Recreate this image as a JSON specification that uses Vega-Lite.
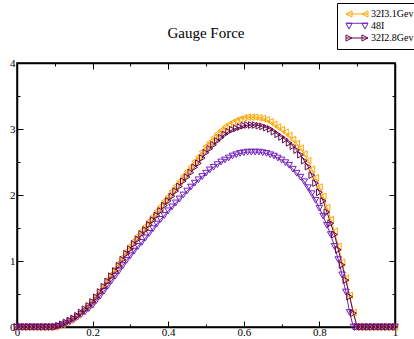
{
"$schema":"https://vega.github.io/schema/vega-lite/v6.json",
"width":378,"height":264,
"autosize":{"type":"none"},
"padding":{"left":17,"top":63,"right":19,"bottom":12},
"background":"white",
"title":{"text":"Gauge Force","font":"Liberation Serif","fontSize":15,"fontWeight":"normal","color":"black","anchor":"middle","frame":"group","offset":-38},
"config":{
 "view":{"stroke":"black","strokeWidth":1.5},
 "axis":{"domainColor":"black","domainWidth":1.5,"tickColor":"black","tickWidth":1,"labelFont":"Liberation Serif","labelFontSize":11,"labelColor":"black","grid":false,"title":null,"format":"~g"},
 "legend":{"orient":"none","legendX":320,"legendY":-60,"strokeColor":"black","strokeWidth":1,"padding":5,"fillColor":"white","labelFont":"Liberation Serif","labelFontSize":10,"labelColor":"black","symbolSize":121,"symbolStrokeWidth":1,"rowPadding":0,"symbolOffset":9,"labelOffset":8,"title":null}
},
"data":{"values":[
{"s":"32I3.1Gev","x":0,"y":0},{"s":"32I3.1Gev","x":0.01,"y":0},{"s":"32I3.1Gev","x":0.02,"y":0},{"s":"32I3.1Gev","x":0.03,"y":0},{"s":"32I3.1Gev","x":0.04,"y":0},{"s":"32I3.1Gev","x":0.05,"y":0},{"s":"32I3.1Gev","x":0.06,"y":0},{"s":"32I3.1Gev","x":0.07,"y":0},{"s":"32I3.1Gev","x":0.08,"y":0},{"s":"32I3.1Gev","x":0.09,"y":0},{"s":"32I3.1Gev","x":0.1,"y":0},
{"s":"32I3.1Gev","x":0.11,"y":0.02},{"s":"32I3.1Gev","x":0.12,"y":0.04},{"s":"32I3.1Gev","x":0.13,"y":0.07},{"s":"32I3.1Gev","x":0.14,"y":0.1},{"s":"32I3.1Gev","x":0.15,"y":0.14},{"s":"32I3.1Gev","x":0.16,"y":0.18},{"s":"32I3.1Gev","x":0.17,"y":0.23},{"s":"32I3.1Gev","x":0.18,"y":0.28},{"s":"32I3.1Gev","x":0.19,"y":0.33},{"s":"32I3.1Gev","x":0.2,"y":0.39},
{"s":"32I3.1Gev","x":0.21,"y":0.47},{"s":"32I3.1Gev","x":0.22,"y":0.55},{"s":"32I3.1Gev","x":0.23,"y":0.63},{"s":"32I3.1Gev","x":0.24,"y":0.72},{"s":"32I3.1Gev","x":0.25,"y":0.8},{"s":"32I3.1Gev","x":0.26,"y":0.88},{"s":"32I3.1Gev","x":0.27,"y":0.97},{"s":"32I3.1Gev","x":0.28,"y":1.06},{"s":"32I3.1Gev","x":0.29,"y":1.15},{"s":"32I3.1Gev","x":0.3,"y":1.23},
{"s":"32I3.1Gev","x":0.31,"y":1.31},{"s":"32I3.1Gev","x":0.32,"y":1.38},{"s":"32I3.1Gev","x":0.33,"y":1.46},{"s":"32I3.1Gev","x":0.34,"y":1.53},{"s":"32I3.1Gev","x":0.35,"y":1.61},{"s":"32I3.1Gev","x":0.36,"y":1.68},{"s":"32I3.1Gev","x":0.37,"y":1.76},{"s":"32I3.1Gev","x":0.38,"y":1.83},{"s":"32I3.1Gev","x":0.39,"y":1.91},{"s":"32I3.1Gev","x":0.4,"y":1.98},
{"s":"32I3.1Gev","x":0.41,"y":2.06},{"s":"32I3.1Gev","x":0.42,"y":2.14},{"s":"32I3.1Gev","x":0.43,"y":2.21},{"s":"32I3.1Gev","x":0.44,"y":2.29},{"s":"32I3.1Gev","x":0.45,"y":2.36},{"s":"32I3.1Gev","x":0.46,"y":2.43},{"s":"32I3.1Gev","x":0.47,"y":2.51},{"s":"32I3.1Gev","x":0.48,"y":2.58},{"s":"32I3.1Gev","x":0.49,"y":2.66},{"s":"32I3.1Gev","x":0.5,"y":2.74},
{"s":"32I3.1Gev","x":0.51,"y":2.8},{"s":"32I3.1Gev","x":0.52,"y":2.87},{"s":"32I3.1Gev","x":0.53,"y":2.93},{"s":"32I3.1Gev","x":0.54,"y":2.98},{"s":"32I3.1Gev","x":0.55,"y":3.03},{"s":"32I3.1Gev","x":0.56,"y":3.07},{"s":"32I3.1Gev","x":0.57,"y":3.1},{"s":"32I3.1Gev","x":0.58,"y":3.13},{"s":"32I3.1Gev","x":0.59,"y":3.15},{"s":"32I3.1Gev","x":0.6,"y":3.17},
{"s":"32I3.1Gev","x":0.61,"y":3.18},{"s":"32I3.1Gev","x":0.62,"y":3.18},{"s":"32I3.1Gev","x":0.63,"y":3.18},{"s":"32I3.1Gev","x":0.64,"y":3.17},{"s":"32I3.1Gev","x":0.65,"y":3.16},{"s":"32I3.1Gev","x":0.66,"y":3.14},{"s":"32I3.1Gev","x":0.67,"y":3.11},{"s":"32I3.1Gev","x":0.68,"y":3.07},{"s":"32I3.1Gev","x":0.69,"y":3.03},{"s":"32I3.1Gev","x":0.7,"y":2.99},
{"s":"32I3.1Gev","x":0.71,"y":2.95},{"s":"32I3.1Gev","x":0.72,"y":2.9},{"s":"32I3.1Gev","x":0.73,"y":2.84},{"s":"32I3.1Gev","x":0.74,"y":2.78},{"s":"32I3.1Gev","x":0.75,"y":2.71},{"s":"32I3.1Gev","x":0.76,"y":2.62},{"s":"32I3.1Gev","x":0.77,"y":2.52},{"s":"32I3.1Gev","x":0.78,"y":2.39},{"s":"32I3.1Gev","x":0.79,"y":2.26},{"s":"32I3.1Gev","x":0.8,"y":2.12},
{"s":"32I3.1Gev","x":0.81,"y":1.98},{"s":"32I3.1Gev","x":0.82,"y":1.81},{"s":"32I3.1Gev","x":0.83,"y":1.63},{"s":"32I3.1Gev","x":0.84,"y":1.45},{"s":"32I3.1Gev","x":0.85,"y":1.22},{"s":"32I3.1Gev","x":0.86,"y":0.98},{"s":"32I3.1Gev","x":0.87,"y":0.74},{"s":"32I3.1Gev","x":0.88,"y":0.48},{"s":"32I3.1Gev","x":0.89,"y":0.22},{"s":"32I3.1Gev","x":0.9,"y":0},
{"s":"32I3.1Gev","x":0.91,"y":0},{"s":"32I3.1Gev","x":0.92,"y":0},{"s":"32I3.1Gev","x":0.93,"y":0},{"s":"32I3.1Gev","x":0.94,"y":0},{"s":"32I3.1Gev","x":0.95,"y":0},{"s":"32I3.1Gev","x":0.96,"y":0},{"s":"32I3.1Gev","x":0.97,"y":0},{"s":"32I3.1Gev","x":0.98,"y":0},{"s":"32I3.1Gev","x":0.99,"y":0},{"s":"32I3.1Gev","x":1,"y":0},
{"s":"48I","x":0,"y":0},{"s":"48I","x":0.01,"y":0},{"s":"48I","x":0.02,"y":0},{"s":"48I","x":0.03,"y":0},{"s":"48I","x":0.04,"y":0},{"s":"48I","x":0.05,"y":0},{"s":"48I","x":0.06,"y":0},{"s":"48I","x":0.07,"y":0},{"s":"48I","x":0.08,"y":0},{"s":"48I","x":0.09,"y":0},{"s":"48I","x":0.1,"y":0},
{"s":"48I","x":0.11,"y":0.01},{"s":"48I","x":0.12,"y":0.03},{"s":"48I","x":0.13,"y":0.05},{"s":"48I","x":0.14,"y":0.08},{"s":"48I","x":0.15,"y":0.11},{"s":"48I","x":0.16,"y":0.15},{"s":"48I","x":0.17,"y":0.19},{"s":"48I","x":0.18,"y":0.23},{"s":"48I","x":0.19,"y":0.28},{"s":"48I","x":0.2,"y":0.33},
{"s":"48I","x":0.21,"y":0.4},{"s":"48I","x":0.22,"y":0.47},{"s":"48I","x":0.23,"y":0.54},{"s":"48I","x":0.24,"y":0.62},{"s":"48I","x":0.25,"y":0.7},{"s":"48I","x":0.26,"y":0.77},{"s":"48I","x":0.27,"y":0.85},{"s":"48I","x":0.28,"y":0.93},{"s":"48I","x":0.29,"y":1.01},{"s":"48I","x":0.3,"y":1.08},
{"s":"48I","x":0.31,"y":1.15},{"s":"48I","x":0.32,"y":1.22},{"s":"48I","x":0.33,"y":1.28},{"s":"48I","x":0.34,"y":1.35},{"s":"48I","x":0.35,"y":1.42},{"s":"48I","x":0.36,"y":1.49},{"s":"48I","x":0.37,"y":1.56},{"s":"48I","x":0.38,"y":1.63},{"s":"48I","x":0.39,"y":1.69},{"s":"48I","x":0.4,"y":1.76},
{"s":"48I","x":0.41,"y":1.82},{"s":"48I","x":0.42,"y":1.88},{"s":"48I","x":0.43,"y":1.94},{"s":"48I","x":0.44,"y":2.0},{"s":"48I","x":0.45,"y":2.06},{"s":"48I","x":0.46,"y":2.12},{"s":"48I","x":0.47,"y":2.18},{"s":"48I","x":0.48,"y":2.23},{"s":"48I","x":0.49,"y":2.28},{"s":"48I","x":0.5,"y":2.33},
{"s":"48I","x":0.51,"y":2.38},{"s":"48I","x":0.52,"y":2.42},{"s":"48I","x":0.53,"y":2.46},{"s":"48I","x":0.54,"y":2.5},{"s":"48I","x":0.55,"y":2.53},{"s":"48I","x":0.56,"y":2.56},{"s":"48I","x":0.57,"y":2.59},{"s":"48I","x":0.58,"y":2.61},{"s":"48I","x":0.59,"y":2.63},{"s":"48I","x":0.6,"y":2.64},
{"s":"48I","x":0.61,"y":2.65},{"s":"48I","x":0.62,"y":2.65},{"s":"48I","x":0.63,"y":2.65},{"s":"48I","x":0.64,"y":2.65},{"s":"48I","x":0.65,"y":2.64},{"s":"48I","x":0.66,"y":2.63},{"s":"48I","x":0.67,"y":2.61},{"s":"48I","x":0.68,"y":2.59},{"s":"48I","x":0.69,"y":2.56},{"s":"48I","x":0.7,"y":2.53},
{"s":"48I","x":0.71,"y":2.49},{"s":"48I","x":0.72,"y":2.45},{"s":"48I","x":0.73,"y":2.39},{"s":"48I","x":0.74,"y":2.33},{"s":"48I","x":0.75,"y":2.27},{"s":"48I","x":0.76,"y":2.2},{"s":"48I","x":0.77,"y":2.11},{"s":"48I","x":0.78,"y":2.02},{"s":"48I","x":0.79,"y":1.92},{"s":"48I","x":0.8,"y":1.8},
{"s":"48I","x":0.81,"y":1.68},{"s":"48I","x":0.82,"y":1.54},{"s":"48I","x":0.83,"y":1.4},{"s":"48I","x":0.84,"y":1.22},{"s":"48I","x":0.85,"y":1.02},{"s":"48I","x":0.86,"y":0.79},{"s":"48I","x":0.87,"y":0.53},{"s":"48I","x":0.88,"y":0.22},{"s":"48I","x":0.89,"y":0},{"s":"48I","x":0.9,"y":0},
{"s":"48I","x":0.91,"y":0},{"s":"48I","x":0.92,"y":0},{"s":"48I","x":0.93,"y":0},{"s":"48I","x":0.94,"y":0},{"s":"48I","x":0.95,"y":0},{"s":"48I","x":0.96,"y":0},{"s":"48I","x":0.97,"y":0},{"s":"48I","x":0.98,"y":0},{"s":"48I","x":0.99,"y":0},{"s":"48I","x":1,"y":0},
{"s":"32I2.8Gev","x":0,"y":0},{"s":"32I2.8Gev","x":0.01,"y":0},{"s":"32I2.8Gev","x":0.02,"y":0},{"s":"32I2.8Gev","x":0.03,"y":0},{"s":"32I2.8Gev","x":0.04,"y":0},{"s":"32I2.8Gev","x":0.05,"y":0},{"s":"32I2.8Gev","x":0.06,"y":0},{"s":"32I2.8Gev","x":0.07,"y":0},{"s":"32I2.8Gev","x":0.08,"y":0},{"s":"32I2.8Gev","x":0.09,"y":0},{"s":"32I2.8Gev","x":0.1,"y":0},
{"s":"32I2.8Gev","x":0.11,"y":0.02},{"s":"32I2.8Gev","x":0.12,"y":0.04},{"s":"32I2.8Gev","x":0.13,"y":0.07},{"s":"32I2.8Gev","x":0.14,"y":0.1},{"s":"32I2.8Gev","x":0.15,"y":0.13},{"s":"32I2.8Gev","x":0.16,"y":0.17},{"s":"32I2.8Gev","x":0.17,"y":0.22},{"s":"32I2.8Gev","x":0.18,"y":0.27},{"s":"32I2.8Gev","x":0.19,"y":0.32},{"s":"32I2.8Gev","x":0.2,"y":0.38},
{"s":"32I2.8Gev","x":0.21,"y":0.45},{"s":"32I2.8Gev","x":0.22,"y":0.53},{"s":"32I2.8Gev","x":0.23,"y":0.61},{"s":"32I2.8Gev","x":0.24,"y":0.69},{"s":"32I2.8Gev","x":0.25,"y":0.77},{"s":"32I2.8Gev","x":0.26,"y":0.85},{"s":"32I2.8Gev","x":0.27,"y":0.93},{"s":"32I2.8Gev","x":0.28,"y":1.02},{"s":"32I2.8Gev","x":0.29,"y":1.11},{"s":"32I2.8Gev","x":0.3,"y":1.18},
{"s":"32I2.8Gev","x":0.31,"y":1.26},{"s":"32I2.8Gev","x":0.32,"y":1.33},{"s":"32I2.8Gev","x":0.33,"y":1.41},{"s":"32I2.8Gev","x":0.34,"y":1.47},{"s":"32I2.8Gev","x":0.35,"y":1.55},{"s":"32I2.8Gev","x":0.36,"y":1.62},{"s":"32I2.8Gev","x":0.37,"y":1.69},{"s":"32I2.8Gev","x":0.38,"y":1.76},{"s":"32I2.8Gev","x":0.39,"y":1.84},{"s":"32I2.8Gev","x":0.4,"y":1.91},
{"s":"32I2.8Gev","x":0.41,"y":1.98},{"s":"32I2.8Gev","x":0.42,"y":2.06},{"s":"32I2.8Gev","x":0.43,"y":2.13},{"s":"32I2.8Gev","x":0.44,"y":2.21},{"s":"32I2.8Gev","x":0.45,"y":2.27},{"s":"32I2.8Gev","x":0.46,"y":2.34},{"s":"32I2.8Gev","x":0.47,"y":2.42},{"s":"32I2.8Gev","x":0.48,"y":2.48},{"s":"32I2.8Gev","x":0.49,"y":2.56},{"s":"32I2.8Gev","x":0.5,"y":2.64},
{"s":"32I2.8Gev","x":0.51,"y":2.7},{"s":"32I2.8Gev","x":0.52,"y":2.76},{"s":"32I2.8Gev","x":0.53,"y":2.82},{"s":"32I2.8Gev","x":0.54,"y":2.87},{"s":"32I2.8Gev","x":0.55,"y":2.92},{"s":"32I2.8Gev","x":0.56,"y":2.96},{"s":"32I2.8Gev","x":0.57,"y":2.99},{"s":"32I2.8Gev","x":0.58,"y":3.01},{"s":"32I2.8Gev","x":0.59,"y":3.03},{"s":"32I2.8Gev","x":0.6,"y":3.05},
{"s":"32I2.8Gev","x":0.61,"y":3.06},{"s":"32I2.8Gev","x":0.62,"y":3.06},{"s":"32I2.8Gev","x":0.63,"y":3.06},{"s":"32I2.8Gev","x":0.64,"y":3.05},{"s":"32I2.8Gev","x":0.65,"y":3.04},{"s":"32I2.8Gev","x":0.66,"y":3.02},{"s":"32I2.8Gev","x":0.67,"y":3.0},{"s":"32I2.8Gev","x":0.68,"y":2.96},{"s":"32I2.8Gev","x":0.69,"y":2.92},{"s":"32I2.8Gev","x":0.7,"y":2.88},
{"s":"32I2.8Gev","x":0.71,"y":2.84},{"s":"32I2.8Gev","x":0.72,"y":2.79},{"s":"32I2.8Gev","x":0.73,"y":2.74},{"s":"32I2.8Gev","x":0.74,"y":2.68},{"s":"32I2.8Gev","x":0.75,"y":2.61},{"s":"32I2.8Gev","x":0.76,"y":2.52},{"s":"32I2.8Gev","x":0.77,"y":2.43},{"s":"32I2.8Gev","x":0.78,"y":2.3},{"s":"32I2.8Gev","x":0.79,"y":2.18},{"s":"32I2.8Gev","x":0.8,"y":2.04},
{"s":"32I2.8Gev","x":0.81,"y":1.91},{"s":"32I2.8Gev","x":0.82,"y":1.74},{"s":"32I2.8Gev","x":0.83,"y":1.57},{"s":"32I2.8Gev","x":0.84,"y":1.4},{"s":"32I2.8Gev","x":0.85,"y":1.17},{"s":"32I2.8Gev","x":0.86,"y":0.94},{"s":"32I2.8Gev","x":0.87,"y":0.71},{"s":"32I2.8Gev","x":0.88,"y":0.46},{"s":"32I2.8Gev","x":0.89,"y":0.21},{"s":"32I2.8Gev","x":0.9,"y":0},
{"s":"32I2.8Gev","x":0.91,"y":0},{"s":"32I2.8Gev","x":0.92,"y":0},{"s":"32I2.8Gev","x":0.93,"y":0},{"s":"32I2.8Gev","x":0.94,"y":0},{"s":"32I2.8Gev","x":0.95,"y":0},{"s":"32I2.8Gev","x":0.96,"y":0},{"s":"32I2.8Gev","x":0.97,"y":0},{"s":"32I2.8Gev","x":0.98,"y":0},{"s":"32I2.8Gev","x":0.99,"y":0},{"s":"32I2.8Gev","x":1,"y":0}
]},
"layer":[
{"mark":{"type":"line","strokeWidth":1},
 "encoding":{
  "x":{"field":"x","type":"quantitative","scale":{"domain":[0,1],"nice":false,"zero":false},
   "axis":{"orient":"bottom","values":[0,0.1,0.2,0.3,0.4,0.5,0.6,0.7,0.8,0.9,1],
    "tickSize":{"condition":{"test":"abs(round(datum.value*5)-datum.value*5)<0.001","value":-6},"value":-3},
    "labelExpr":"abs(round(datum.value*5)-datum.value*5)<0.001 ? datum.label : ''","labelPadding":5,"labelFlush":false}},
  "y":{"field":"y","type":"quantitative","scale":{"domain":[0,4],"nice":false},
   "axis":{"orient":"left","values":[0,0.5,1,1.5,2,2.5,3,3.5,4],
    "tickSize":{"condition":{"test":"abs(round(datum.value)-datum.value)<0.001","value":-6},"value":-3},
    "labelExpr":"abs(round(datum.value)-datum.value)<0.001 ? datum.label : ''","labelPadding":8,"labelFlush":false}},
  "color":{"field":"s","type":"nominal","scale":{"domain":["32I3.1Gev","48I","32I2.8Gev"],"range":["#FFA500","#7221BC","#670748"]},"legend":null}
 }},
{"mark":{"type":"point","filled":false,"size":44,"strokeWidth":1,"opacity":1},
 "encoding":{
  "x":{"field":"x","type":"quantitative","scale":{"domain":[0,1],"nice":false,"zero":false},
   "axis":{"orient":"top","values":[0,0.1,0.2,0.3,0.4,0.5,0.6,0.7,0.8,0.9,1],
    "tickSize":{"condition":{"test":"abs(round(datum.value*5)-datum.value*5)<0.001","value":-6},"value":-3},"labels":false}},
  "y":{"field":"y","type":"quantitative","scale":{"domain":[0,4],"nice":false},
   "axis":{"orient":"right","values":[0,0.5,1,1.5,2,2.5,3,3.5,4],
    "tickSize":{"condition":{"test":"abs(round(datum.value)-datum.value)<0.001","value":-6},"value":-3},"labels":false}},
  "color":{"field":"s","type":"nominal","scale":{"domain":["32I3.1Gev","48I","32I2.8Gev"],"range":["#FFA500","#7221BC","#670748"]},"legend":null},
  "shape":{"field":"s","type":"nominal","scale":{"domain":["32I3.1Gev","48I","32I2.8Gev"],"range":["triangle-left","triangle-down","triangle-right"]},"legend":null}
 }},
{"mark":{"type":"point","filled":false,"opacity":0},
 "encoding":{
  "x":{"field":"x","type":"quantitative","axis":null},
  "y":{"field":"y","type":"quantitative","axis":null},
  "color":{"field":"s","type":"nominal","scale":{"domain":["32I3.1Gev","48I","32I2.8Gev"],"range":["#FFA500","#7221BC","#670748"]},"legend":{"title":null}},
  "shape":{"field":"s","type":"nominal","scale":{"domain":["32I3.1Gev","48I","32I2.8Gev"],"range":[
   "M-2,0L2,0M-2,0L-0.9,-0.55L-0.9,0.55ZM0.9,0L2,-0.55L2,0.55Z",
   "M-2,-0.5L2,-0.5M-2,-0.5L-0.9,-0.5L-1.45,0.55ZM0.9,-0.5L2,-0.5L1.45,0.55Z",
   "M-2,0L2,0M-2,-0.55L-0.9,0L-2,0.55ZM0.9,-0.55L2,0L0.9,0.55Z"]},"legend":{"title":null}}
 }}
],
"resolve":{"scale":{"color":"independent","shape":"independent"},"axis":{"x":"independent","y":"independent"}}
}
